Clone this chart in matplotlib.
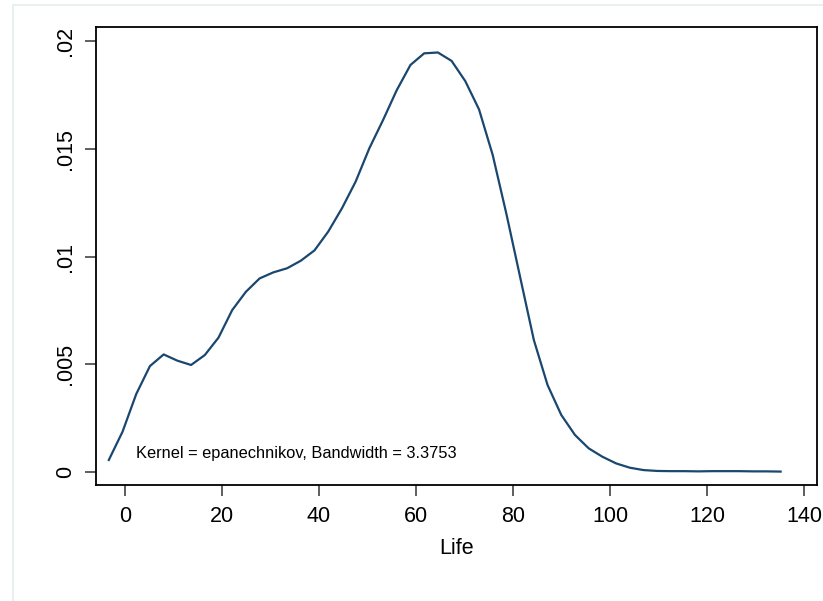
# Kernel density of Life (Stata-style kdensity look)
import numpy as np
import matplotlib
matplotlib.use("Agg")
import matplotlib.pyplot as plt
from matplotlib.patches import Rectangle

plt.rcParams["font.family"] = ["Liberation Sans", "DejaVu Sans"]

# --- data (50 evaluation points) ---
x_start = -3.3
x_step = 2.826
density = [
    0.00056, 0.00187, 0.00362, 0.00492, 0.00546, 0.00517, 0.00497, 0.00543,
    0.00624, 0.00752, 0.00837, 0.00899, 0.00927, 0.00946, 0.00981, 0.01029,
    0.01116, 0.01224, 0.01348, 0.01503, 0.01634, 0.01773, 0.01890, 0.01944,
    0.01948, 0.01909, 0.01815, 0.01684, 0.01472, 0.01198, 0.00905, 0.00613,
    0.00404, 0.00265, 0.00172, 0.00110, 0.00071, 0.00040, 0.00020, 0.00009,
    0.00005, 0.00004, 0.00004, 0.00003, 0.00004, 0.00004, 0.00004, 0.00003,
    0.00003, 0.00002,
]
life = [x_start + i * x_step for i in range(len(density))]

x_ticks = [0, 20, 40, 60, 80, 100, 120, 140]
y_ticks = [0, 0.005, 0.01, 0.015, 0.02]
y_labels = ["0", ".005", ".01", ".015", ".02"]
note = "Kernel = epanechnikov, Bandwidth = 3.3753"

fig = plt.figure(figsize=(8.23, 6.01), dpi=100)
# faint outer graph-region border
fig.patches.append(Rectangle((13 / 823, -0.01), 1.0, 1 - 5 / 601 + 0.01,
                             transform=fig.transFigure, fill=False,
                             edgecolor="#e6eef0", lw=1.2))

ax = fig.add_axes([0.1163, 0.1925, 0.876, 0.7621])
ax.plot(life, density, color="#1a476f", lw=1.6)

ax.set_xlim(-6.0, 142.6)
ax.set_ylim(-0.000617, 0.02065)
ax.set_xticks(x_ticks)
ax.set_yticks(y_ticks)
ax.set_yticklabels(y_labels, rotation=90, va="center")
ax.tick_params(axis="both", labelsize=15.5, length=8, width=1.1, color="#333333")
ax.tick_params(axis="x", pad=7)
ax.tick_params(axis="y", pad=6)
for s in ax.spines.values():
    s.set_linewidth(1.3)
    s.set_color("black")

ax.set_xlabel("Life", fontsize=15.5, labelpad=8)
ax.text(2.3, 0.00088, note, fontsize=11.8, va="center", ha="left")

fig.savefig("out.png", dpi=100)
